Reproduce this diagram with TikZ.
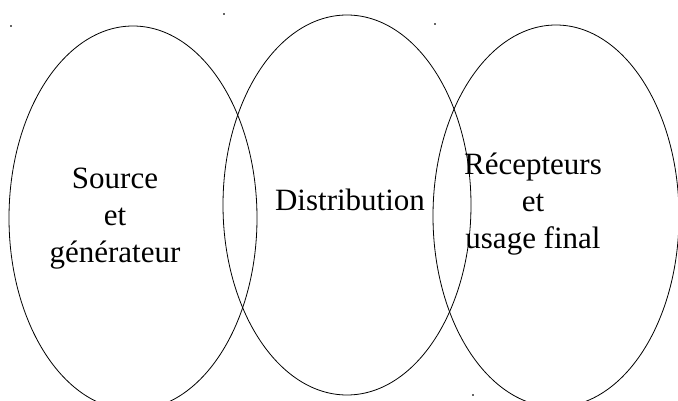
\documentclass[tikz,border=0pt]{standalone}
\usepackage{fontspec}
\setmainfont{Liberation Serif}
\usetikzlibrary{shapes.geometric}
\tikzset{
  zone/.style={draw=black, line width=0.8pt},
  lbl/.style={align=center, inner sep=0pt, font=\fontsize{31pt}{37pt}\selectfont},
  speck/.style={fill=black!60, inner sep=0pt, minimum size=1.2pt, draw=none}
}
\begin{document}
\begin{tikzpicture}[x=1pt,y=-1pt]
\useasboundingbox (0,0) rectangle (678,401);
\clip (0,0) rectangle (678,401);
\fill[white] (0,0) rectangle (678,401);
\draw[zone] (133,218) ellipse [x radius=124, y radius=192];
\draw[zone] (347,205) ellipse [x radius=124, y radius=190];
\draw[zone] (556,216) ellipse [x radius=123, y radius=191];
\node[lbl, anchor=base] (src) at (115,262) {Source\\et\\générateur};
\node[lbl, anchor=base] (dist) at (350,211) {Distribution};
\node[lbl, anchor=base] (rec) at (533,248) {Récepteurs\\et\\usage final};
\node[speck] (d1) at (11,26) {};
\node[speck] (d2) at (224,14) {};
\node[speck] (d3) at (435,24) {};
\node[speck] (d4) at (473,395) {};
\end{tikzpicture}
\end{document}
